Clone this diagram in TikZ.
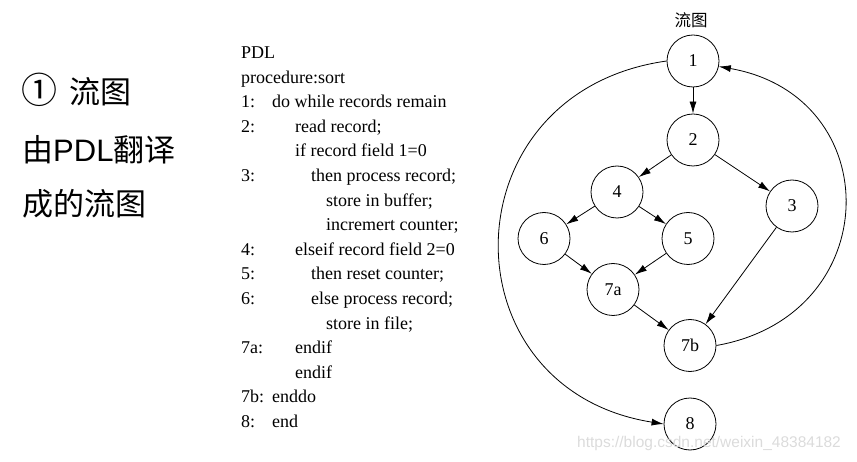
\documentclass[tikz,border=0pt]{standalone}
\usepackage{fontspec}
\setmainfont{Liberation Serif}
\newfontfamily\cjk{Noto Sans CJK SC}
\newfontfamily\arialfont{Liberation Sans}
\usetikzlibrary{arrows.meta}

\begin{document}
\begin{tikzpicture}[x=1pt, y=1pt,
    vertex/.style={draw, circle, minimum size=52pt, inner sep=0pt, line width=0.8pt, font=\fontsize{18}{20}\selectfont},
    flow/.style={line width=0.8pt, -{Latex[length=12pt,width=7pt]}},
    pdl/.style={anchor=base west, inner sep=0pt, font=\fontsize{18}{20}\selectfont},
    lead/.style={anchor=west, inner sep=0pt, font=\fontsize{31}{34}\selectfont}]
    \useasboundingbox (0, 0) rectangle (857, 461) ;
    \node[lead] (head) at (21, 371.5) {\cjk {\fontsize{36}{38}\selectfont ①}\hspace{12pt}流图} ;
    \node[lead] (sub1) at (22, 311.5) {\cjk 由\arialfont PDL\cjk 翻译} ;
    \node[lead] (sub2) at (22, 257.5) {\cjk 成的流图} ;

    \node[pdl] (pdl) at (241, 402.5) {PDL} ;
    \node[pdl] (proc) at (241, 377.9) {procedure:sort} ;
    \node[pdl] (no1) at (241, 353.3) {1:} ;
    \node[pdl] (st1) at (272, 353.3) {do while records remain} ;
    \node[pdl] (no2) at (241, 328.7) {2:} ;
    \node[pdl] (st2) at (295, 328.7) {read record;} ;
    \node[pdl] (st2b) at (295, 304.1) {if record field 1=0} ;
    \node[pdl] (no3) at (241, 279.5) {3:} ;
    \node[pdl] (st3) at (311, 279.5) {then process record;} ;
    \node[pdl] (st3b) at (326, 254.9) {store in buffer;} ;
    \node[pdl] (st3c) at (326, 230.3) {incremert counter;} ;
    \node[pdl] (no4) at (241, 205.7) {4:} ;
    \node[pdl] (st4) at (295, 205.7) {elseif record field 2=0} ;
    \node[pdl] (no5) at (241, 181.1) {5:} ;
    \node[pdl] (st5) at (311, 181.1) {then reset counter;} ;
    \node[pdl] (no6) at (241, 156.5) {6:} ;
    \node[pdl] (st6) at (311, 156.5) {else process record;} ;
    \node[pdl] (st6b) at (326, 131.9) {store in file;} ;
    \node[pdl] (no7a) at (241, 107.3) {7a:} ;
    \node[pdl] (st7a) at (295, 107.3) {endif} ;
    \node[pdl] (st7x) at (295, 82.7) {endif} ;
    \node[pdl] (no7b) at (241, 58.1) {7b:} ;
    \node[pdl] (st7b) at (272, 58.1) {enddo} ;
    \node[pdl] (no8) at (241, 33.5) {8:} ;
    \node[pdl] (st8) at (272, 33.5) {end} ;

    \node[font=\cjk\fontsize{16.5}{18}\selectfont] (title) at (691, 441) {流图} ;
    \node[vertex] (n1) at (693, 400) {1} ;
    \node[vertex] (n2) at (693, 321) {2} ;
    \node[vertex] (n4) at (617, 269) {4} ;
    \node[vertex] (n3) at (792, 255) {3} ;
    \node[vertex] (n6) at (544, 222.5) {6} ;
    \node[vertex] (n5) at (688, 222.5) {5} ;
    \node[vertex] (n7a) at (613, 171.5) {7a} ;
    \node[vertex] (n7b) at (690, 115.5) {7b} ;
    \node[vertex] (n8) at (690, 37) {8} ;
    \draw[flow] (n1) -- (n2) ;
    \draw[flow] (n2) -- (n4) ;
    \draw[flow] (n2) -- (n3) ;
    \draw[flow] (n4) -- (n6) ;
    \draw[flow] (n4) -- (n5) ;
    \draw[flow] (n6) -- (n7a) ;
    \draw[flow] (n5) -- (n7a) ;
    \draw[flow] (n7a) -- (n7b) ;
    \draw[flow] (n3) -- (n7b) ;
    \draw[flow] (n1.west) .. controls +(188:223) and +(171:223) .. (n8.west) ;
    \draw[flow] (n7b.east) .. controls +(10:172) and +(-10:172) .. (n1.-12) ;

    \node[anchor=west, inner sep=0pt, text=black!14, font=\arialfont\fontsize{15.5}{17}\selectfont] (mark) at (577, 18) {https://blog.csdn.net/weixin\_48384182} ;
\end{tikzpicture}
\end{document}
